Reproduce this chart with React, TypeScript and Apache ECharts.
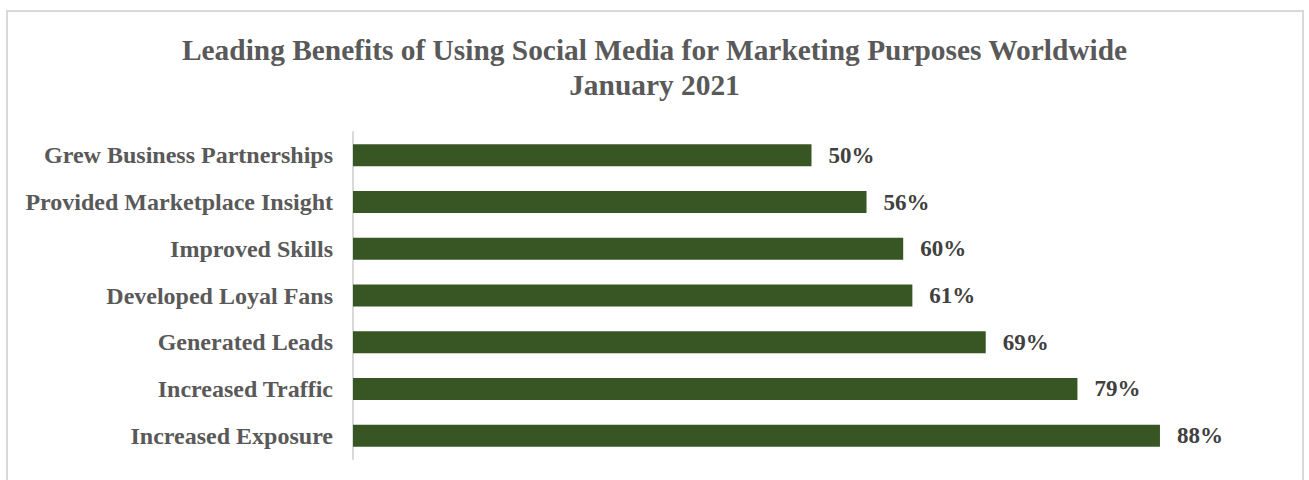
import React, { useEffect, useRef } from "react";
import * as echarts from "echarts";

const categories = [
  "Grew Business Partnerships",
  "Provided Marketplace Insight",
  "Improved Skills",
  "Developed Loyal Fans",
  "Generated Leads",
  "Increased Traffic",
  "Increased Exposure",
];
const values = [50, 56, 60, 61, 69, 79, 88];
const titleText = "Leading Benefits of Using Social Media for Marketing Purposes Worldwide\nJanuary 2021";

export default function App() {
  const ref = useRef<HTMLDivElement>(null);
  useEffect(() => {
    const chart = echarts.init(ref.current!, null, { renderer: "svg" });
    chart.setOption({
      animation: false,
      backgroundColor: "#ffffff",
      title: {
        text: titleText,
        left: "center",
        top: 27,
        textStyle: {
          fontFamily: "Liberation Serif",
          fontWeight: "bold",
          fontSize: 29.4,
          color: "#595959",
          lineHeight: 35,
        },
      },
      graphic: [
        {
          type: "rect",
          shape: { x: 7, y: 11, width: 1296, height: 480 },
          style: { fill: "none", stroke: "#d9d9d9", lineWidth: 2 },
          silent: true,
        },
      ],
      grid: { left: 353, right: 39, top: 132, bottom: 21, containLabel: false },
      xAxis: {
        type: "value",
        min: 0,
        max: 100,
        show: false,
      },
      yAxis: {
        type: "category",
        data: categories,
        inverse: true,
        axisLine: { show: true, lineStyle: { color: "#d9d9d9", width: 2 } },
        axisTick: { show: false },
        axisLabel: {
          margin: 20,
          fontFamily: "Liberation Serif",
          fontWeight: "bold",
          fontSize: 24,
          color: "#595959",
        },
      },
      series: [
        {
          type: "bar",
          data: values,
          barWidth: 22,
          itemStyle: { color: "#375623" },
          label: {
            show: true,
            position: "right",
            distance: 17,
            formatter: "{c}%",
            fontFamily: "Liberation Serif",
            fontWeight: "bold",
            fontSize: 23,
            color: "#404040",
          },
        },
      ],
    });
    return () => chart.dispose();
  }, []);
  return (
    <div
      ref={ref}
      style={{ position: "fixed", left: 0, top: 0, width: 1309, height: 480 }}
    />
  );
}
